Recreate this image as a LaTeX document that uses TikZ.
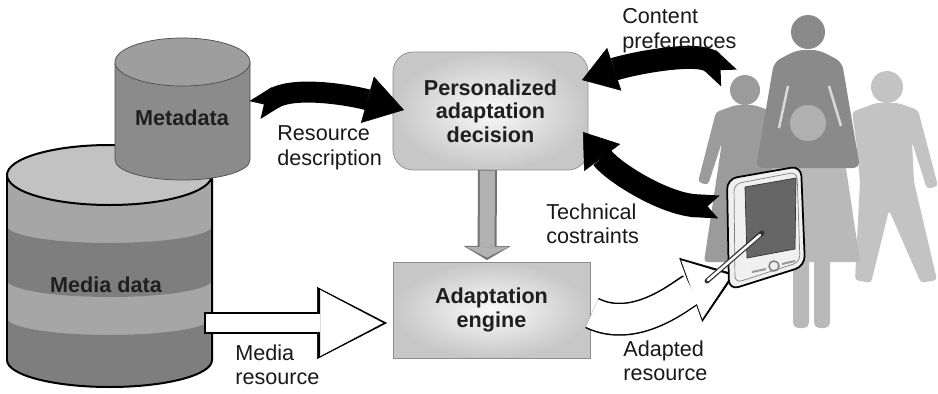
\documentclass[tikz,border=0pt]{standalone}
\usepackage{fontspec}
\setmainfont{Liberation Sans}
\usetikzlibrary{arrows.meta,calc}

\definecolor{bandlight}{HTML}{A6A6A6}
\definecolor{banddark}{HTML}{7E7E7E}
\definecolor{toplight}{HTML}{C2C2C2}
\definecolor{metabody}{HTML}{8B8B8B}
\definecolor{metatop}{HTML}{9E9E9E}
\definecolor{pone}{HTML}{9B9B9B}
\definecolor{ptwo}{HTML}{8A8A8A}
\definecolor{ptwolow}{HTML}{B9B9B9}
\definecolor{pthree}{HTML}{C3C3C3}

\begin{document}
\begin{tikzpicture}[x=0.02cm,y=-0.02cm,
  font=\fontsize{12.3}{14.2}\selectfont,
  lbl/.style={anchor=north west,inner sep=0,align=left,text=black!90},
  bold/.style={font=\fontsize{12.3}{13.4}\selectfont\bfseries,text=black!88},
  box/.style={bold,draw=black!45,shading=radial,inner color=black!2,
    outer color=black!22,align=center,outer sep=0},
  blk/.style={line width=#1,black},
  outline/.style={line width=#1,black},
  inline/.style={line width=#1,white}]

\path[fill=white,use as bounding box] (0,0) rectangle (938,393);

% people
\fill[pthree] (887,87) circle[radius=16];
\fill[pthree,rounded corners=2] (876,103) -- (898,103) -- (918,110) -- (938,186) -- (927,189)
  -- (912,142) -- (914,182) -- (937,280) -- (921,283) -- (889,210) -- (871,283)
  -- (855,280) -- (860,182) -- (856,140) -- (852,112) -- cycle;
\fill[pone] (745,90) circle[radius=15];
\fill[pone,rounded corners=2] (736,105) -- (754,105) -- (774,112) -- (792,182) -- (782,185)
  -- (768,142) -- (786,262) -- (704,262) -- (722,142) -- (708,185) -- (698,182)
  -- (716,112) -- cycle;
\fill[ptwolow] (772,168) -- (846,168) -- (860,262) -- (758,262) -- cycle;
\fill[ptwolow,rounded corners=3] (793,255) rectangle (809,328) (814,255) rectangle (830,328);
\fill[ptwo] (808,32) circle[radius=17];
\fill[ptwo,rounded corners=4] (797,50) -- (819,50) -- (842,62) -- (860,168) -- (756,168)
  -- (774,62) -- cycle;
\draw[black!15,line width=0.5mm] (788,86) -- (779,128) (829,86) -- (841,126);
\fill[black!31] (808,123) circle[radius=18];

% media data
\begin{scope}
  \clip (7,175) -- (7,360) arc[start angle=180,end angle=0,x radius=102.5,y radius=27]
    -- (212,175) -- cycle;
  \fill[bandlight] (0,140) rectangle (220,400);
  \fill[banddark] (7,226) arc[start angle=180,end angle=0,x radius=102.5,y radius=17]
    -- (212,280) arc[start angle=0,end angle=180,x radius=102.5,y radius=17] -- cycle;
  \fill[banddark] (7,318) arc[start angle=180,end angle=0,x radius=102.5,y radius=17]
    -- (212,400) -- (7,400) -- cycle;
\end{scope}
\draw[line width=0.4mm] (7,175) -- (7,360) arc[start angle=180,end angle=0,x radius=102.5,y radius=27]
  -- (212,175);
\filldraw[fill=toplight,line width=0.4mm] (109.5,175) ellipse[x radius=102.5,y radius=30];
\node[bold] (media) at (106,285) {Media data};

% metadata
\filldraw[fill=metabody,draw=black!70] (115,62) -- (115,160)
  arc[start angle=180,end angle=0,x radius=67.5,y radius=20] -- (250,62) -- cycle;
\filldraw[fill=metatop,draw=black!70] (182.5,62) ellipse[x radius=67.5,y radius=24];
\node[bold] (meta) at (182,118) {Metadata};

\node[box,rounded corners=4mm,minimum width=3.9cm,minimum height=2.36cm] (dec)
  at (490.5,111) {Personalized\\adaptation\\decision};
\node[box,minimum width=3.94cm,minimum height=1.92cm] (eng)
  at (491.5,310) {Adaptation\\engine};

\coordinate (metaside) at (255,110);
\coordinate (mediaside) at (204,323);
\coordinate (users) at (729,78);
\coordinate (pda) at (719,207);
\coordinate (pdatip) at (735,274);

% arrows
\draw[outline=3.8mm,black!55,-{Triangle[length=2.8mm,width=9.4mm,line width=0.1mm]}]
  ($(dec.south)+(-3,0)$) -- ($(eng.north)+(-4.5,-2)$);
\draw[inline=3mm,black!30,shorten >=0.5mm,-{Triangle[length=2.1mm,width=8.2mm,line width=0.1mm]}]
  ($(dec.south)+(-3,0.6)$) -- ($(eng.north)+(-4.5,-2)$);

\draw[outline=4.4mm,-{Triangle[length=14mm,width=14.4mm,line width=0.1mm]}]
  (mediaside) -- ($(eng.west)+(-6,13)$);
\draw[inline=3.6mm,shorten <=0.4mm,shorten >=0.8mm,-{Triangle[length=12.6mm,width=13.2mm,line width=0.1mm]}]
  (mediaside) -- ($(eng.west)+(-6,13)$);

\draw[outline=6.6mm,-{Triangle[length=9.4mm,width=13.6mm,line width=0.1mm]}]
  ($(eng.east)+(2,3)$) .. controls +(45,22) and +(-50,18) .. (pdatip);
\draw[inline=6mm,shorten >=0.8mm,-{Triangle[length=8.4mm,width=12.4mm,line width=0.1mm]}]
  ($(eng.east)+(2,3)$) .. controls +(45,22) and +(-50,18) .. (pdatip);

\draw[blk=4.2mm,{Triangle Cap[reversed]}-{Triangle[length=7.6mm,width=9.6mm,line width=0.1mm]}]
  (metaside) .. controls +(40,-25) and +(-50,-14) .. ($(dec.west)+(11,-1)$);
\draw[blk=4.6mm,{Triangle Cap[reversed]}-{Triangle[length=6.8mm,width=9mm,line width=0.1mm]}]
  (users) .. controls +(-30,-28) and +(48,-16) .. ($(dec.east)+(-6,-31)$);
\draw[blk=4.6mm,{Triangle Cap[reversed]}-{Triangle[length=6.4mm,width=9mm,line width=0.1mm]}]
  (pda) .. controls +(-55,-3) and +(30,40) .. ($(dec.east)+(-5,21)$);

% handheld
\filldraw[fill=black!6,line width=0.35mm,rounded corners=2mm] (727,179) -- (801,166)
  -- (805,266) -- (729,290) -- cycle;
\draw[black!50,rounded corners=1.4mm] (734,184) -- (797,172) -- (800,262) -- (735,283) -- cycle;
\filldraw[fill=black!60,draw=black!80] (745,187) -- (796,178) -- (795,249) -- (747,258) -- cycle;
\draw[black!50,line width=0.3mm] (774,266) circle[radius=5];
\draw[black!40,line width=0.4mm] (752,272) -- (766,269) (782,264) -- (795,261);
\draw[line width=1mm,black!80,line cap=round] (707,281) -- (762,233);
\draw[line width=0.5mm,white,line cap=round] (708,280) -- (760,235);

\node[lbl] (rdesc) at (277,125) {Resource\\description};
\node[lbl] (mres) at (235,344) {Media\\resource};
\node[lbl] (cpref) at (622,8) {Content\\preferences};
\node[lbl] (tcons) at (546,203) {Technical\\costraints};
\node[lbl] (ares) at (623,340) {Adapted\\resource};
\end{tikzpicture}
\end{document}
